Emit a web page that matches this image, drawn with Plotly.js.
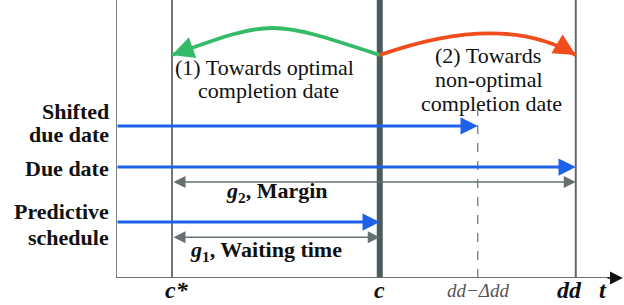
<!DOCTYPE html>
<html>
<head>
<meta charset="utf-8">
<script src="https://cdn.plot.ly/plotly-3.0.1.min.js"></script>
<style>html,body{margin:0;padding:0;background:#fff;}#chart{width:624px;height:305px;}</style>
</head>
<body>
<div id="chart"></div>
<script>
// ---- data ----
const timeLabels = ['c*', 'c', 'dd\u2212\u0394dd', 'dd'];
const timeValues = [1.0, 4.71, 6.46, 8.21];
const axisEnd = 9.05;
const rowLabels = [['Shifted', 'due date'], ['Due date'], ['Predictive', 'schedule']];
const rowLevels = [5.47, 3.99, 2.01];
const rowArrowEnds = [6.46, 8.21, 4.71];
const gapLabels = ['<i>g</i><sub>2</sub>, Margin', '<i>g</i><sub>1</sub>, Waiting time'];
const gapLevels = [3.45, 1.47];
const gapStarts = [1.0, 1.0];
const gapEnds = [8.21, 4.71];
const moveLabels = [['(1) Towards optimal', 'completion date'], ['(2) Towards', 'non-optimal', 'completion date']];
const moveFrom = [4.71, 4.71];
const moveTo = [1.0, 8.21];
const moveLevel = 8.02;

// ---- styling / layout helpers ----
const X = p => (p - 116) / 56;
const Y = p => 10 * (1 - p / 278);
const serif = 'Liberation Serif';
const blue = '#1e62ea', gray = '#667070', dark = '#4b5b5b';
const moveColors = ['#35bb68', '#f04c1c'];
// cubic control points (styling of the curved arrows)
const moveCtrl = [[[X(270), Y(19)], [X(272), Y(19)]], [[X(462), Y(26)], [X(527), Y(26)]]];

const shapes = [];
const ann = [];

// vertical reference lines
shapes.push({type: 'line', xref: 'x', yref: 'paper', x0: 0, x1: 0, y0: 0, y1: 1, line: {color: '#7a8282', width: 2}});
timeValues.forEach((t, i) => {
  if (i === 0) shapes.push({type: 'line', xref: 'x', yref: 'paper', x0: t, x1: t, y0: 0, y1: 1, line: {color: '#6f7878', width: 2}});
  if (i === 1) shapes.push({type: 'line', xref: 'x', yref: 'paper', x0: t, x1: t, y0: 0, y1: 1, line: {color: dark, width: 6}});
  if (i === 2) shapes.push({type: 'line', xref: 'x', yref: 'y', x0: t, x1: t, y0: 0, y1: Y(110), line: {color: '#6a7272', width: 1.2, dash: 'dash'}});
  if (i === 3) shapes.push({type: 'line', xref: 'x', yref: 'paper', x0: t, x1: t, y0: 0, y1: 1, line: {color: '#5f6868', width: 2}});
});
// time axis
shapes.push({type: 'line', xref: 'x', yref: 'y', x0: 0, x1: axisEnd - 0.2, y0: 0, y1: 0, line: {color: '#6a7070', width: 2}});
ann.push({x: axisEnd, y: 0, ax: axisEnd - 0.3, ay: 0, xref: 'x', yref: 'y', axref: 'x', ayref: 'y', text: '', showarrow: true, arrowhead: 2, arrowwidth: 1.6, arrowsize: 1.6, arrowcolor: '#111'});

// curved moves
moveTo.forEach((t, i) => {
  const c1 = moveCtrl[i][0], c2 = moveCtrl[i][1];
  shapes.push({type: 'path', xref: 'x', yref: 'y', path: `M ${moveFrom[i]},${moveLevel} C ${c1[0]},${c1[1]} ${c2[0]},${c2[1]} ${t},${moveLevel}`, line: {color: moveColors[i], width: 3.8}});
  const tx = t - (t - c2[0]) * 0.15, ty = moveLevel - (moveLevel - c2[1]) * 0.15;
  ann.push({x: t, y: moveLevel, ax: tx, ay: ty, xref: 'x', yref: 'y', axref: 'x', ayref: 'y', text: '', showarrow: true, arrowhead: 2, arrowwidth: 3.8, arrowsize: 1.15, arrowcolor: moveColors[i]});
});

// row arrows
rowLevels.forEach((lv, i) => {
  ann.push({x: rowArrowEnds[i], y: lv, ax: 0, ay: lv, xref: 'x', yref: 'y', axref: 'x', ayref: 'y', text: '', showarrow: true, arrowhead: 2, arrowwidth: 3, arrowsize: 1.15, arrowcolor: blue});
});
// gap arrows
gapLevels.forEach((lv, i) => {
  ann.push({x: gapEnds[i], y: lv, ax: gapStarts[i], ay: lv, xref: 'x', yref: 'y', axref: 'x', ayref: 'y', text: '', showarrow: true, arrowhead: 2, arrowside: 'end+start', arrowwidth: 1.5, arrowsize: 1.6, arrowcolor: gray});
});

// row labels
const rowLineShift = [[14, -9], [-1], [11, -15]];
rowLabels.forEach((lines, i) => {
  lines.forEach((s, j) => {
    ann.push({x: 0, y: rowLevels[i], xref: 'x', yref: 'y', xanchor: 'right', yanchor: 'middle', xshift: -5, yshift: rowLineShift[i][j], text: '<b>' + s + '</b>', showarrow: false, font: {family: serif, size: 22, color: '#111'}});
  });
});
// gap labels
const gapTextPos = [[277, 192], [266, 251]];
gapLabels.forEach((s, i) => {
  ann.push({x: X(gapTextPos[i][0]), y: Y(gapTextPos[i][1]), xref: 'x', yref: 'y', text: '<b>' + s + '</b>', showarrow: false, font: {family: serif, size: 22, color: '#111'}});
});
// move labels
const movePos = [[[264, 67], [268, 90]], [[488, 55], [489, 79], [491, 103]]];
moveLabels.forEach((lines, i) => {
  lines.forEach((s, j) => {
    ann.push({x: X(movePos[i][j][0]), y: Y(movePos[i][j][1]), xref: 'x', yref: 'y', text: s, showarrow: false, font: {family: serif, size: 22, color: '#111'}});
  });
});
// time labels
timeLabels.forEach((s, i) => {
  const minor = i === 2;
  ann.push({x: timeValues[i], y: 0, xref: 'x', yref: 'paper', yanchor: 'top', yshift: minor ? 0 : 3, xshift: i === 0 ? 5 : (i === 3 ? -6 : 0),
    text: minor ? '<i>' + s + '</i>' : '<b><i>' + s + '</i></b>', showarrow: false,
    font: {family: serif, size: minor ? 19 : 24, color: minor ? '#555' : '#111'}});
});
ann.push({x: axisEnd - 0.35, y: 0, xref: 'x', yref: 'paper', yanchor: 'top', yshift: 3, text: '<b><i>t</i></b>', showarrow: false, font: {family: serif, size: 24, color: '#111'}});

const layout = {
  width: 624, height: 305,
  margin: {l: 116, r: 0, t: 0, b: 27},
  paper_bgcolor: '#fff', plot_bgcolor: '#fff',
  font: {family: serif},
  showlegend: false,
  xaxis: {range: [0, 508 / 56], visible: false, fixedrange: true},
  yaxis: {range: [0, 10], visible: false, fixedrange: true},
  shapes: shapes,
  annotations: ann
};
Plotly.newPlot('chart', [{x: [], y: [], type: 'scatter', hoverinfo: 'skip'}], layout, {staticPlot: true, displayModeBar: false});
</script>
</body>
</html>
